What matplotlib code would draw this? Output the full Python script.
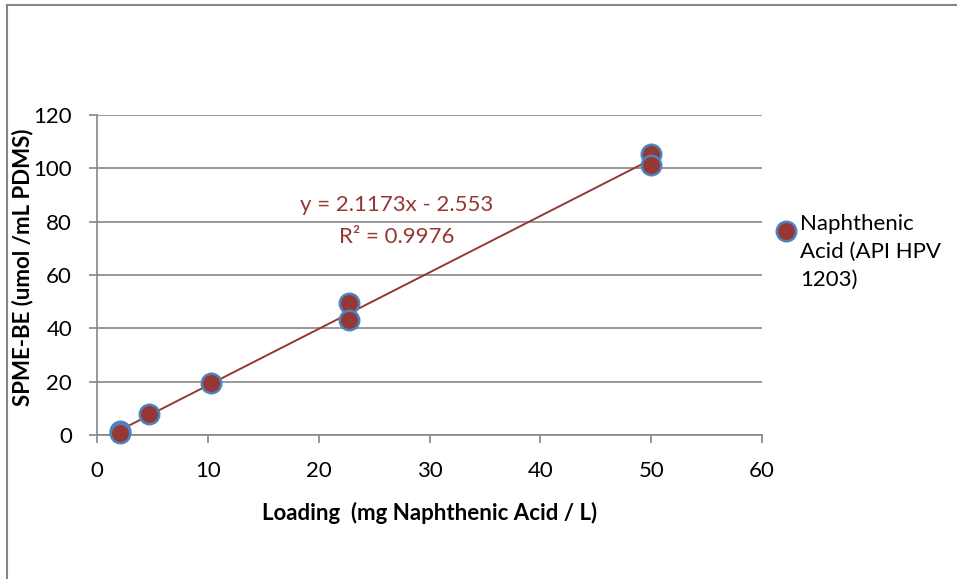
"""SPME-BE response versus naphthenic acid loading, with linear trendline."""

import numpy as np
import matplotlib

matplotlib.use("Agg")
import matplotlib.pyplot as plt
from matplotlib.lines import Line2D

plt.rcParams["font.family"] = ["Lato", "DejaVu Sans"]

# data
loading = [2.1, 2.1, 4.7, 10.3, 22.7, 22.7, 50.0, 50.0]
spme_be = [1.5, 0.8, 7.7, 19.4, 49.6, 43.1, 105.4, 101.3]
fit_slope = 2.1173
fit_intercept = -2.553
fit_r2 = 0.9976

x_ticks = [0, 10, 20, 30, 40, 50, 60]
y_ticks = [0, 20, 40, 60, 80, 100, 120]

series_name = "Naphthenic\nAcid (API HPV\n1203)"
x_label = "Loading  (mg Naphthenic Acid / L)"
y_label = "SPME-BE (umol /mL PDMS)"

FILL = "#953735"
EDGE = "#4F81BD"
GRID = "#868686"
FS = 16

fig = plt.figure(figsize=(9.57, 5.79), dpi=100)
ax = fig.add_axes([0.1014, 0.2487, 0.6949, 0.5527])

# outer chart frame (only top and left edges show in the crop)
fig.add_artist(Line2D([0.0068, 1.0], [0.991, 0.991], color=GRID, lw=1.5))
fig.add_artist(Line2D([0.0068, 0.0068], [0.0, 0.991], color=GRID, lw=1.5))

ax.set_xlim(0, 60)
ax.set_ylim(0, 120)
ax.set_xticks(x_ticks)
ax.set_yticks(y_ticks)
ax.tick_params(axis="both", direction="out", length=6, width=1.2, color=GRID,
               labelsize=FS)
ax.tick_params(axis="x", pad=13)
ax.tick_params(axis="y", pad=12)
ax.grid(axis="y", color=GRID, lw=1.2)
ax.set_axisbelow(True)
for side in ("top", "right"):
    ax.spines[side].set_visible(False)
for side in ("left", "bottom"):
    ax.spines[side].set_color(GRID)
    ax.spines[side].set_linewidth(1.2)

fit_x = np.array([min(loading), max(loading)])
ax.plot(fit_x, fit_slope * fit_x + fit_intercept, color=FILL, lw=1.4, zorder=2)
ax.plot(loading, spme_be, "o", ms=14, mfc=FILL, mec=EDGE, mew=1.8, zorder=3,
        clip_on=False)

ax.text(27.0, 86.2, f"y = {fit_slope}x - {abs(fit_intercept)}", color=FILL,
        fontsize=FS, ha="center", va="center")
ax.text(27.0, 74.2, f"R² = {fit_r2}", color=FILL, fontsize=FS,
        ha="center", va="center")

ax.set_xlabel(x_label, fontsize=FS, fontweight="bold", labelpad=15)
ax.set_ylabel(y_label, fontsize=FS, fontweight="bold")
ax.yaxis.set_label_coords(-0.096, 0.525)

# legend drawn by hand so the marker sits on the first text line
fig.add_artist(Line2D([786 / 957], [1 - 231 / 579], ls="none", marker="o",
                      ms=14, mfc=FILL, mec=EDGE, mew=1.8))
fig.text(800 / 957, 1 - 214 / 579, series_name, fontsize=FS, ha="left",
         va="top", linespacing=1.5)

fig.savefig("out.png", dpi=100)
plt.close(fig)
